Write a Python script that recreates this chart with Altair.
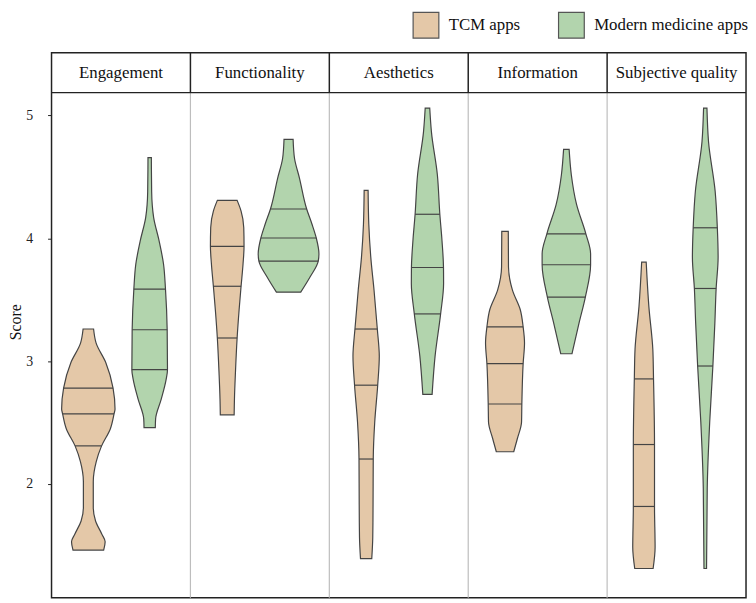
import altair as alt
import numpy as np
import pandas as pd

# ---------------- data ----------------
CATEGORIES = ["Engagement", "Functionality", "Aesthetics", "Information", "Subjective quality"]
GROUPS = ["TCM apps", "Modern medicine apps"]
COLORS = ["#e4c8a8", "#b2d4ad"]

# violin outlines: score values and half-width (density, in px units of the x scale)
ENG_TCM_SCORE = [3.261, 3.148, 2.987, 2.780, 2.611, 2.571, 2.450, 2.308, 2.182, 2.021, 1.806, 1.699, 1.591, 1.530, 1.462]
ENG_TCM_HALF = [5.3, 7.8, 17.7, 25.0, 27.0, 26.0, 22.3, 13.3, 8.0, 5.0, 5.0, 7.3, 13.7, 17.0, 15.5]
ENG_MOD_SCORE = [4.656, 4.380, 4.170, 3.980, 3.790, 3.585, 3.255, 2.930, 2.853, 2.690, 2.530, 2.458]
ENG_MOD_HALF = [1.7, 2.0, 4.0, 9.5, 14.0, 16.0, 17.7, 18.0, 16.7, 11.7, 6.0, 5.7]

FUN_TCM_SCORE = [4.308, 4.221, 4.087, 3.934, 3.792, 3.609, 3.416, 3.188, 2.907, 2.692, 2.563]
FUN_TCM_HALF = [10.0, 14.0, 16.7, 17.0, 16.0, 14.0, 12.0, 10.0, 8.3, 7.3, 7.0]
FUN_MOD_SCORE = [4.804, 4.651, 4.490, 4.238, 4.114, 4.002, 3.873, 3.814, 3.684, 3.561]
FUN_MOD_HALF = [4.6, 6.0, 11.0, 18.3, 23.7, 28.0, 30.7, 30.0, 21.7, 12.3]

AES_TCM_SCORE = [4.390, 4.114, 3.846, 3.577, 3.261, 3.040, 2.804, 2.504, 2.203, 1.833, 1.564, 1.393]
AES_TCM_HALF = [2.0, 2.7, 4.7, 8.0, 11.3, 13.3, 11.7, 8.7, 7.2, 7.0, 6.7, 5.7]
AES_MOD_SCORE = [5.059, 4.866, 4.517, 4.195, 3.980, 3.762, 3.631, 3.384, 3.040, 2.729]
AES_MOD_HALF = [2.3, 4.0, 10.0, 12.5, 14.7, 16.2, 16.3, 13.3, 7.7, 4.7]

INF_TCM_SCORE = [4.055, 3.765, 3.577, 3.416, 3.279, 3.148, 2.979, 2.651, 2.504, 2.370, 2.262]
INF_TCM_HALF = [3.3, 3.5, 7.5, 15.5, 18.3, 19.7, 18.3, 17.0, 16.7, 12.5, 8.8]
INF_MOD_SCORE = [4.723, 4.517, 4.275, 4.036, 3.873, 3.784, 3.521, 3.309, 3.060]
INF_MOD_HALF = [2.8, 5.0, 10.3, 19.7, 24.5, 24.5, 19.2, 12.8, 5.7]

SUB_TCM_SCORE = [3.805, 3.443, 3.094, 2.855, 2.321, 1.817, 1.484, 1.312]
SUB_TCM_HALF = [2.3, 5.0, 9.0, 9.7, 10.7, 10.7, 11.3, 9.3]
SUB_MOD_SCORE = [5.059, 4.785, 4.382, 4.085, 3.846, 3.591, 3.309, 2.960, 2.504, 1.967, 1.312]
SUB_MOD_HALF = [1.7, 3.3, 10.0, 12.2, 13.0, 11.0, 9.7, 7.7, 4.5, 2.0, 1.3]

# quartiles (Q3, median, Q1)
ENG_TCM_Q = [2.780, 2.570, 2.310]
ENG_MOD_Q = [3.585, 3.255, 2.930]
FUN_TCM_Q = [3.934, 3.609, 3.188]
FUN_MOD_Q = [4.238, 4.002, 3.814]
AES_TCM_Q = [3.261, 2.804, 2.203]
AES_MOD_Q = [4.195, 3.762, 3.384]
INF_TCM_Q = [3.279, 2.979, 2.651]
INF_MOD_Q = [4.036, 3.784, 3.521]
SUB_TCM_Q = [2.855, 2.321, 1.817]
SUB_MOD_Q = [4.085, 3.591, 2.960]

Y_TICKS = [2, 3, 4, 5]

# ---------------- layout ----------------
W, H = 702, 551
PANEL = W / len(CATEGORIES)
OFFSET = {"TCM apps": -33, "Modern medicine apps": 29}
Y_MIN, Y_MAX = 1.0733, 5.5097
HEADER_Y0 = 5.185
HEADER_MID = (HEADER_Y0 + Y_MAX) / 2
FONT = "Liberation Serif"

VIOLINS = [
    ("Engagement", "TCM apps", ENG_TCM_SCORE, ENG_TCM_HALF, ENG_TCM_Q),
    ("Engagement", "Modern medicine apps", ENG_MOD_SCORE, ENG_MOD_HALF, ENG_MOD_Q),
    ("Functionality", "TCM apps", FUN_TCM_SCORE, FUN_TCM_HALF, FUN_TCM_Q),
    ("Functionality", "Modern medicine apps", FUN_MOD_SCORE, FUN_MOD_HALF, FUN_MOD_Q),
    ("Aesthetics", "TCM apps", AES_TCM_SCORE, AES_TCM_HALF, AES_TCM_Q),
    ("Aesthetics", "Modern medicine apps", AES_MOD_SCORE, AES_MOD_HALF, AES_MOD_Q),
    ("Information", "TCM apps", INF_TCM_SCORE, INF_TCM_HALF, INF_TCM_Q),
    ("Information", "Modern medicine apps", INF_MOD_SCORE, INF_MOD_HALF, INF_MOD_Q),
    ("Subjective quality", "TCM apps", SUB_TCM_SCORE, SUB_TCM_HALF, SUB_TCM_Q),
    ("Subjective quality", "Modern medicine apps", SUB_MOD_SCORE, SUB_MOD_HALF, SUB_MOD_Q),
]

outline_rows, quart_rows = [], []
for cat, grp, sc, hw, qs in VIOLINS:
    center = CATEGORIES.index(cat) * PANEL + PANEL / 2 + OFFSET[grp]
    vid = f"{cat}|{grp}"
    for s, h in sorted(zip(sc, hw)):
        outline_rows.append(dict(vid=vid, group=grp, score=s, lo=center - h, hi=center + h))
    s_arr = np.array(sc)[::-1]
    h_arr = np.array(hw)[::-1]
    for q in qs:
        h = float(np.interp(q, s_arr, h_arr))
        quart_rows.append(dict(vid=vid, score=q, lo=center - h, hi=center + h))

outline_df = pd.DataFrame(outline_rows)
quart_df = pd.DataFrame(quart_rows)
sep_df = pd.DataFrame({"xpos": [k * PANEL for k in range(1, len(CATEGORIES))]})
sep_df["y0"] = Y_MIN
sep_df["y1"] = HEADER_Y0
sep_df["y2"] = Y_MAX
head_df = pd.DataFrame({"category": CATEGORIES,
                        "xc": [i * PANEL + PANEL / 2 for i in range(len(CATEGORIES))],
                        "yc": HEADER_MID})
hline_df = pd.DataFrame({"hy": [HEADER_Y0]})

xscale = alt.Scale(domain=[0, W], nice=False, zero=False)
yscale = alt.Scale(domain=[Y_MIN, Y_MAX], nice=False, zero=False)
YAX = alt.Axis(values=Y_TICKS, title="Score", grid=False, domain=False,
               tickSize=4, tickColor="#222222", labelPadding=15,
               labelFont=FONT, labelFontSize=14, labelColor="#222222",
               titleFont=FONT, titleFontSize=16, titleFontWeight="normal",
               titleColor="#111111", titleX=-31, titleY=272,
               titleBaseline="alphabetic")

areas = alt.Chart(outline_df).mark_area(
    orient="horizontal", interpolate="monotone",
    stroke="#444444", strokeWidth=1.2, opacity=1, fillOpacity=1
).encode(
    y=alt.Y("score:Q", scale=yscale, axis=YAX),
    x=alt.X("lo:Q", scale=xscale, axis=None),
    x2="hi:Q",
    fill=alt.Fill("group:N", scale=alt.Scale(domain=GROUPS, range=COLORS),
                  legend=alt.Legend(orient="none", legendX=364.5, legendY=-42,
                                    direction="horizontal", title=None,
                                    symbolType="square", symbolSize=676,
                                    symbolStrokeColor="#555555", symbolStrokeWidth=1.2,
                                    symbolOpacity=1,
                                    labelFont=FONT, labelFontSize=17, labelColor="#111111",
                                    labelOffset=9, columnPadding=35, padding=0)),
    detail="vid:N",
)

quarts = alt.Chart(quart_df).mark_rule(color="#444444", strokeWidth=1.2).encode(
    y=alt.Y("score:Q", scale=yscale, axis=YAX),
    x=alt.X("lo:Q", scale=xscale, axis=None),
    x2="hi:Q",
)

sep_gray = alt.Chart(sep_df).mark_rule(color="#bdbdbd", strokeWidth=1.2).encode(
    x=alt.X("xpos:Q", scale=xscale, axis=None),
    y=alt.Y("y0:Q", scale=yscale, axis=YAX),
    y2="y1:Q",
)

sep_black = alt.Chart(sep_df).mark_rule(color="#222222", strokeWidth=1.5).encode(
    x=alt.X("xpos:Q", scale=xscale, axis=None),
    y=alt.Y("y1:Q", scale=yscale, axis=YAX),
    y2="y2:Q",
)

hline = alt.Chart(hline_df).mark_rule(color="#222222", strokeWidth=1.5).encode(
    y=alt.Y("hy:Q", scale=yscale, axis=YAX),
)

headers = alt.Chart(head_df).mark_text(
    font=FONT, fontSize=17, color="#111111", align="center", baseline="middle"
).encode(
    x=alt.X("xc:Q", scale=xscale, axis=None),
    y=alt.Y("yc:Q", scale=yscale, axis=YAX),
    text="category:N",
)

chart = alt.layer(sep_gray, sep_black, hline, areas, quarts, headers).properties(
    width=W, height=H,
    autosize=alt.AutoSizeParams(type="none"),
    padding={"left": 44, "top": 42, "right": 2, "bottom": 1},
).configure_view(stroke="#222222", strokeWidth=1.5)

chart.save("out.html", embed_options={"renderer": "svg", "actions": False})
